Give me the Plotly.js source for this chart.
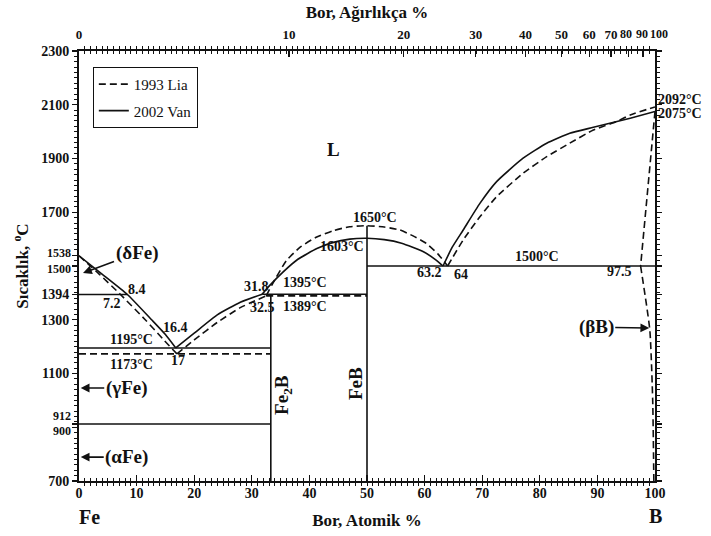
<!DOCTYPE html>
<html>
<head>
<meta charset="utf-8">
<script src="https://cdn.plot.ly/plotly-3.0.1.min.js"></script>
<style>html,body{margin:0;padding:0;background:#fff;}#chart{width:711px;height:536px;}</style>
</head>
<body>
<div id="chart"></div>
<script>
// ---- Axis ticks ----
const atomicTicks = [0,10,20,30,40,50,60,70,80,90,100];
const tempTicks = [700,900,912,1100,1300,1394,1500,1538,1700,1900,2100,2300];
const weightTicks = [0,10,20,30,40,50,60,70,80,90,100];
// close tick labels drawn apart: [value, pixel shift]
const nudgedTempLabels = [[912,8],[900,-4],[1538,3],[1500,-3]];
const nudgedWeightLabels = [[80,-2],[90,-1],[100,4]];

// ---- 2002 Van (solid) ----
const vanLiqFeX = [0,4,8.4,12.6,15,16.8];
const vanLiqFeY = [1538,1470,1394,1300,1245,1195];
const vanLiqFe2BX = [16.8,20,24,28,31.8];
const vanLiqFe2BY = [1195,1250,1318,1365,1395];
const vanLiqFeBX = [31.8,33,35.5,38,41.3,44,47,50,53,56,59.8,62,63.2];
const vanLiqFeBY = [1395,1425,1479,1525,1565,1587,1600,1603,1598,1585,1553,1522,1500];
const vanLiqBX = [63.2,64.8,66.7,69.6,72.5,77.1,81.2,85.2,89.3,95.7,100];
const vanLiqBY = [1500,1570,1634,1733,1814,1901,1957,1994,2016,2050,2075];
const vanDeltaX = [0,8.4];      const vanDeltaY = [1394,1394];
const vanEutX = [0,33.3];       const vanEutY = [1195,1195];
const vanAlphaX = [0,33.3];     const vanAlphaY = [912,912];
const vanPeriX = [31.8,50];     const vanPeriY = [1395,1395];
const vanEut2X = [50,100];      const vanEut2Y = [1500,1500];
const fe2bX = [33.3,33.3];      const fe2bY = [700,1395];
const febX = [50,50];           const febY = [700,1650];

// ---- 1993 Lia (dashed) ----
const liaLiqFeX = [0,3.5,7.2,11.5,14.5,17];
const liaLiqFeY = [1538,1470,1394,1300,1230,1173];
const liaLiqFe2BX = [17,20,24,28,32.5];
const liaLiqFe2BY = [1173,1225,1290,1345,1389];
const liaLiqFeBX = [32.5,33.5,36,38.4,41,44.2,47,50,53,55.7,58,60.3,62.3,64];
const liaLiqFeBY = [1389,1430,1520,1570,1605,1632,1646,1650,1645,1634,1612,1584,1545,1500];
const liaLiqBX = [64,66.7,69.6,72.5,77.1,81.2,85.2,89.3,93.3,95.7,100];
const liaLiqBY = [1500,1597,1683,1758,1845,1907,1957,2006,2037,2062,2092];
const liaBSolX = [100,97.5];    const liaBSolY = [2075,1500];
const liaBSolvX = [97.5,99.1,99.6,99.8];
const liaBSolvY = [1500,1262,1000,700];
const liaEutX = [0,33.3];       const liaEutY = [1173,1173];
const liaPeriX = [32.5,50];     const liaPeriY = [1389,1389];

function join(pairs){
  const xs=[], ys=[];
  pairs.forEach((p,i)=>{ if(i>0){xs.push(null);ys.push(null);} xs.push(...p[0]); ys.push(...p[1]); });
  return [xs,ys];
}
const [vcx,vcy] = join([[vanLiqFeX,vanLiqFeY],[vanLiqFe2BX,vanLiqFe2BY],[vanLiqFeBX,vanLiqFeBY],[vanLiqBX,vanLiqBY]]);
const [vsx,vsy] = join([[vanDeltaX,vanDeltaY],[vanEutX,vanEutY],[vanAlphaX,vanAlphaY],[vanPeriX,vanPeriY],[vanEut2X,vanEut2Y],[fe2bX,fe2bY],[febX,febY]]);
const [lcx,lcy] = join([[liaLiqFeX,liaLiqFeY],[liaLiqFe2BX,liaLiqFe2BY],[liaLiqFeBX,liaLiqFeBY],[liaLiqBX,liaLiqBY],[liaBSolvX,liaBSolvY]]);
const [lsx,lsy] = join([[liaBSolX,liaBSolY],[liaEutX,liaEutY],[liaPeriX,liaPeriY]]);

// weight % -> atomic % (for placing the top axis ticks)
function wtToAt(w){ const b=w/10.81, f=(100-w)/55.845; return 100*b/(b+f); }

const serif = "Liberation Serif";
const ink = '#111';
const dashLine = {color:ink, width:1.6, dash:'7px,4px'};
const solidLine = {color:ink, width:1.6};
const ghost = {mode:'lines', showlegend:false, hoverinfo:'skip', line:{width:0, color:'rgba(0,0,0,0)'}};
const traces = [
  {x:lcx, y:lcy, mode:'lines', name:'1993 Lia', legendgroup:'lia', connectgaps:false, line:Object.assign({shape:'spline',smoothing:0.5},dashLine)},
  {x:vcx, y:vcy, mode:'lines', name:'2002 Van', legendgroup:'van', connectgaps:false, line:Object.assign({shape:'spline',smoothing:0.5},solidLine)},
  {x:lsx, y:lsy, mode:'lines', showlegend:false, connectgaps:false, line:dashLine},
  {x:vsx, y:vsy, mode:'lines', showlegend:false, connectgaps:false, line:solidLine},
  Object.assign({x:[0,100], y:[700,700], xaxis:'x2'}, ghost),
  Object.assign({x:[0,100], y:[700,700], xaxis:'x3'}, ghost),
  Object.assign({x:[0,100], y:[700,700], yaxis:'y2'}, ghost)
];

function lab(x,y,t,size,extra){ return Object.assign({x:x,y:y,text:t,showarrow:false,font:{family:serif,size:size||14,color:ink,weight:'bold'}},extra||{}); }
function arr(x,y,t,ax,ay){ return {x:x,y:y,text:t,showarrow:true,ax:ax,ay:ay,arrowhead:2,arrowsize:1.1,arrowwidth:1.6,arrowcolor:ink,
  font:{family:serif,size:19,color:ink,weight:'bold'}}; }

const annotations = [
  lab(44.1,1932,'L',19),
  lab(51.4,1679,'1650°C'),
  lab(45.7,1574,'1603°C'),
  lab(60.9,1474,'63.2'),
  lab(66.3,1470,'64'),
  lab(79.5,1537,'1500°C'),
  lab(93.9,1481,'97.5'),
  lab(10.1,1414,'8.4'),
  lab(5.7,1362,'7.2'),
  lab(16.8,1273,'16.4'),
  lab(17.2,1147,'17'),
  lab(9.2,1228,'1195°C'),
  lab(9.2,1135,'1173°C'),
  lab(30.9,1422,'31.8'),
  lab(31.8,1347,'32.5'),
  lab(39.2,1437,'1395°C'),
  lab(39.2,1351,'1389°C'),
  lab(35.4,1020,'Fe<sub>2</sub>B',19,{textangle:-90}),
  lab(48.1,1061,'FeB',19,{textangle:-90}),
  lab(100,2118,'2092°C',14,{xanchor:'left',xshift:1}),
  lab(100,2069,'2075°C',14,{xanchor:'left',xshift:1}),
  lab(1.9,-0.084,'Fe',20,{yref:'paper',yanchor:'middle'}),
  lab(100,-0.081,'B',20,{yref:'paper',yanchor:'middle'}),
  arr(0.7,1474,'(δFe)',54,-20),
  arr(0.3,1046,'(γFe)',46,0),
  arr(0.3,789,'(αFe)',46,0),
  arr(99.0,1269,'(βB)',-53,-1)
].concat(nudgedTempLabels.map(p => lab(0,p[0],String(p[0]),12,{xref:'paper',xanchor:'right',xshift:-6,yshift:p[1]})))
 .concat(nudgedWeightLabels.map(p => lab(wtToAt(p[0]),1,String(p[0]),12,{yref:'paper',yanchor:'bottom',yshift:8,xshift:p[1]})));

const nudged = nudgedTempLabels.map(p=>p[0]);
const nudgedW = nudgedWeightLabels.map(p=>p[0]);
const tickFont = {family:serif, size:14, weight:'bold', style:'normal', color:ink};
const topTickFont = {family:serif, size:13, weight:'bold', style:'normal', color:ink};
const titleFont = {family:serif, size:17, weight:'bold', color:ink};
const base = {showgrid:false, zeroline:false, automargin:false, tickangle:0, tickcolor:ink};

const layout = {
  width:711, height:536,
  margin:{l:79, r:56, t:51, b:55},
  paper_bgcolor:'#fff', plot_bgcolor:'#fff',
  font:{family:serif, color:ink},
  showlegend:true,
  legend:{x:0.024, y:0.963, xanchor:'left', yanchor:'top', bgcolor:'#fff', bordercolor:ink, borderwidth:1,
    font:{family:serif, size:15, color:ink}, tracegroupgap:4},
  // fine ticks every 1 at.% on bottom and top
  xaxis:Object.assign({}, base, {range:[0,100], tickmode:'linear', tick0:0, dtick:1, showticklabels:false,
    showline:true, linecolor:ink, linewidth:1.6, mirror:'allticks', ticks:'inside', ticklen:3, tickwidth:1}),
  // labelled bottom axis
  xaxis3:Object.assign({}, base, {range:[0,100], overlaying:'x', side:'bottom', tickmode:'array',
    tickvals:atomicTicks, ticktext:atomicTicks.map(String), showline:false,
    ticks:'inside', ticklen:6, tickwidth:1.3, tickfont:tickFont, ticklabelstandoff:2,
    title:{text:'Bor, Atomik %', font:titleFont, standoff:14}}),
  // labelled top axis (weight %)
  xaxis2:Object.assign({}, base, {range:[0,100], overlaying:'x', side:'top', tickmode:'array',
    tickvals:weightTicks.map(wtToAt), ticktext:weightTicks.map(v => nudgedW.includes(v) ? '' : String(v)), showline:false,
    ticks:'inside', ticklen:6, tickwidth:1.3, tickfont:topTickFont, ticklabelstandoff:8,
    title:{text:'Bor, Ağırlıkça %', font:titleFont, standoff:4}}),
  // fine ticks every 20 degrees on left and right
  yaxis:Object.assign({}, base, {range:[700,2300], tickmode:'linear', tick0:700, dtick:20, showticklabels:false,
    showline:true, linecolor:ink, linewidth:1.6, mirror:'allticks', ticks:'outside', ticklen:3, tickwidth:1}),
  // labelled temperature axis
  yaxis2:Object.assign({}, base, {range:[700,2300], overlaying:'y', side:'left', tickmode:'array', tickvals:tempTicks,
    ticktext:tempTicks.map(v => nudged.includes(v) ? '' : String(v)), showline:false, mirror:'ticks',
    ticks:'outside', ticklen:6, tickwidth:1.3, tickfont:tickFont,
    title:{text:'Sıcaklık, <sup>o</sup>C', font:titleFont, standoff:8}}),
  annotations:annotations
};

Plotly.newPlot('chart', traces, layout, {displayModeBar:false, staticPlot:true});
</script>
</body>
</html>
